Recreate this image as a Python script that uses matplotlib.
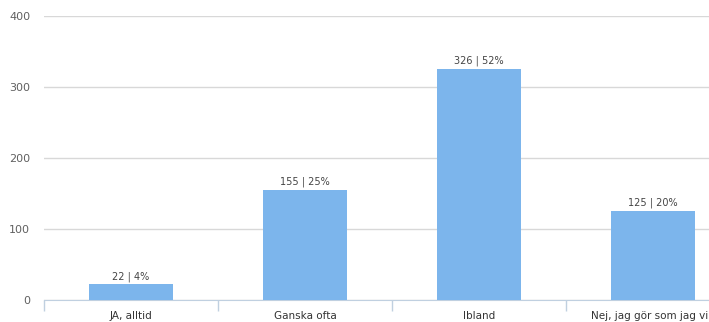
import matplotlib.pyplot as plt
import numpy as np

categories = ['JA, alltid', 'Ganska ofta', 'Ibland', 'Nej, jag gör som jag vill']
counts = [22, 155, 326, 125]
percents = [4, 25, 52, 20]
yticks = [0, 100, 200, 300, 400]

fig = plt.figure(figsize=(7.09, 3.22), dpi=100)
ax = fig.add_axes([44 / 709, 22 / 322, 696 / 709, 284 / 322])

x = np.arange(len(categories))
bars = ax.bar(x, counts, width=0.48, color='#7cb5ec', zorder=3)

for b, c, p in zip(bars, counts, percents):
    ax.text(b.get_x() + b.get_width() / 2, c + 4, f'{c} | {p}%',
            ha='center', va='bottom', fontsize=7, color='#444444')

ax.set_xlim(-0.5, len(categories) - 0.5)
ax.set_ylim(0, 400)
ax.set_yticks(yticks)
ax.yaxis.grid(True, color='#d8d8d8', linewidth=1)
ax.set_axisbelow(True)

# category labels centred, tick marks at the category boundaries
ax.set_xticks(x)
ax.set_xticklabels(categories, fontsize=7.5, color='#333333')
ax.set_xticks(np.arange(-0.5, len(categories), 1), minor=True)
ax.tick_params(axis='x', which='major', length=0, pad=8)
ax.tick_params(axis='x', which='minor', length=8, color='#c0d0e0', width=1)
ax.tick_params(axis='y', length=0, pad=10, labelsize=8, labelcolor='#606060')

for s in ['top', 'right', 'left']:
    ax.spines[s].set_visible(False)
ax.spines['bottom'].set_color('#c0d0e0')

fig.savefig('out.png', dpi=100)
